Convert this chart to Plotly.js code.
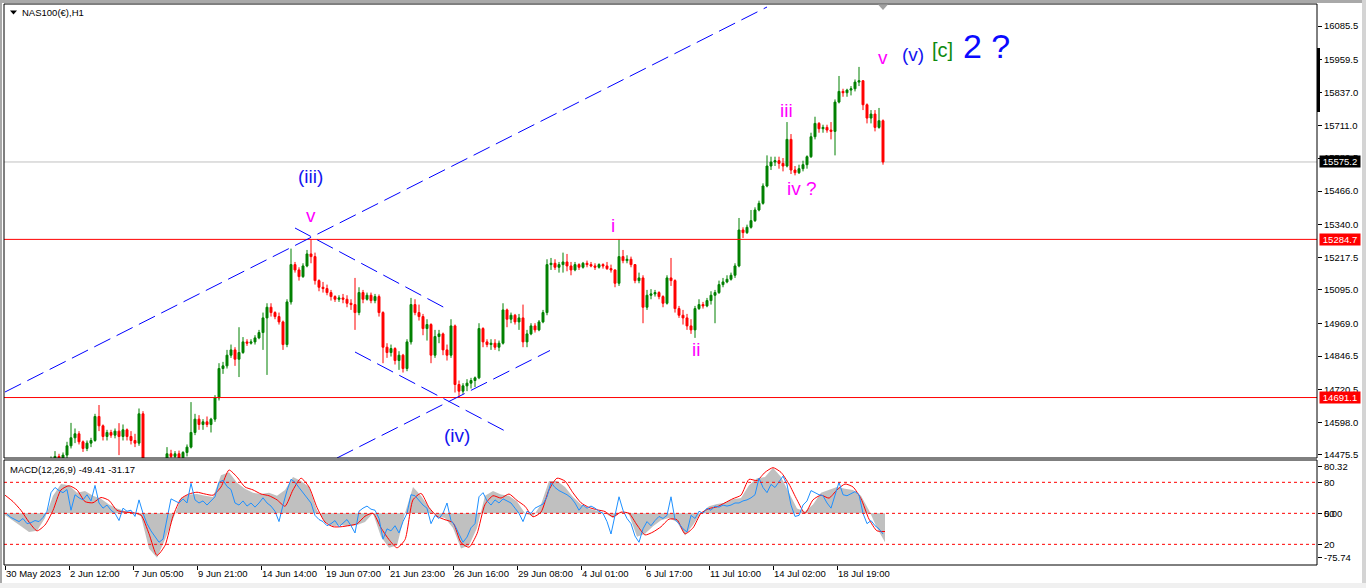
<!DOCTYPE html>
<html><head><meta charset="utf-8">
<script src="https://cdn.plot.ly/plotly-3.0.1.min.js"></script>
<style>html,body{margin:0;padding:0;background:#fff;overflow:hidden}#chart{width:1366px;height:588px}</style>
</head><body><div id="chart"></div><script>
// ---------- DATA ----------
const symbolTitle = "NAS100(€),H1";
const macdTitle = "MACD(12,26,9) -49.41 -31.17";

// 4-hour aggregated candles (each = 4 H1 bars)
const openP = [
14440,14430,14415,14405,14420,14410,14390,14380,14395,14410,
14430,14445,14460,14470,14455,14475,14510,14540,14555,14525,
14500,14520,14530,14620,14585,14545,14560,14550,14565,14545,
14570,14545,14530,14520,14630,14400,14350,14320,14350,14390,
14430,14480,14470,14480,14465,14485,14505,14560,14610,14590,
14600,14590,14610,14690,14800,14810,14850,14870,14835,14860,
14900,14895,14900,14915,14935,14990,15030,15010,14995,14975,
14890,15050,15190,15170,15145,15185,15230,15220,15130,15105,
15100,15085,15070,15060,15065,15060,15045,15040,15010,15085,
15060,15075,15055,15070,15010,14880,14860,14875,14830,14850,
14800,14900,15040,15010,14995,14950,14965,14850,14920,14930,
14870,14850,14960,14740,14715,14735,14745,14755,14765,14950,
14900,14890,14895,14880,14895,15020,14985,15000,14975,14990,
14900,14930,14960,14945,14975,15010,15190,15195,15180,15190,
15200,15185,15170,15190,15180,15195,15190,15185,15180,15190,
15185,15175,15170,15120,15220,15205,15210,15190,15130,15140,
15030,15075,15080,15085,15070,15045,15140,15130,15025,15000,
14990,14960,14945,15025,15040,15035,15055,15075,15085,15115,
15125,15135,15150,15185,15320,15310,15330,15355,15395,15420,
15485,15560,15575,15580,15570,15560,15660,15545,15535,15550,
15565,15595,15670,15720,15700,15705,15695,15690,15800,15840,
15835,15845,15850,15875,15880,15790,15740,15755,15705,15730];
const highP = [
14455,14445,14430,14425,14435,14420,14405,14400,14420,14440,
14455,14470,14490,14480,14485,14525,14596,14575,14565,14530,
14530,14540,14630,14663,14590,14570,14570,14575,14595,14590,
14575,14565,14555,14650,14640,14420,14370,14360,14400,14440,
14505,14495,14490,14492,14490,14515,14674,14630,14625,14610,
14620,14615,14700,14820,14825,14870,14890,14880,14955,14918,
14910,14910,14925,14945,15010,15045,15045,15015,15010,14980,
15060,15250,15200,15180,15195,15245,15285,15235,15135,15125,
15115,15095,15075,15075,15080,15075,15060,15140,15105,15095,
15085,15085,15080,15078,15015,14895,14890,14880,14865,14855,
14910,15065,15060,15040,15005,14985,14970,14945,14945,14935,
14890,14985,14965,14755,14745,14760,14765,14770,14970,14955,
14910,14910,14910,14905,15045,15025,15010,15005,15005,15040,
14945,14970,14970,14982,15020,15210,15215,15210,15200,15235,
15230,15200,15200,15195,15200,15205,15200,15195,15195,15195,
15200,15190,15172,15285,15245,15225,15220,15192,15160,15150,
15095,15098,15095,15090,15075,15150,15215,15135,15035,15020,
15005,14985,15035,15060,15050,15065,15090,15095,15130,15140,
15150,15160,15195,15365,15330,15340,15395,15405,15430,15495,
15600,15595,15595,15595,15590,15725,15680,15560,15565,15580,
15600,15685,15745,15725,15715,15715,15725,15810,15898,15850,
15850,15860,15885,15932,15882,15795,15770,15770,15778,15735];
const lowP = [
14420,14405,14395,14390,14400,14380,14370,14365,14385,14400,
14420,14435,14445,14440,14445,14460,14500,14520,14515,14487,
14490,14505,14525,14565,14530,14530,14540,14538,14475,14530,
14530,14515,14505,14510,14380,14330,14300,14300,14340,14380,
14420,14455,14450,14455,14455,14470,14500,14550,14570,14570,
14580,14560,14600,14680,14780,14800,14840,14810,14768,14855,
14885,14890,14890,14910,14870,14776,14995,14985,14965,14870,
14880,15040,15160,15130,15140,15180,15195,15115,15090,15085,
15075,15055,15050,15050,15045,15030,15020,14945,15000,15045,
15055,15045,15045,14995,14820,14840,14845,14815,14795,14785,
14790,14890,15000,14980,14925,14905,14820,14840,14895,14850,
14830,14840,14710,14692,14705,14715,14725,14730,14760,14880,
14880,14870,14870,14865,14890,14955,14970,14965,14945,14880,
14880,14925,14935,14940,14970,15000,15170,15170,15160,15160,
15165,15150,15165,15170,15175,15180,15180,15170,15175,15175,
15170,15160,15105,15110,15195,15195,15180,15120,15120,14970,
15020,15060,15070,15060,15030,15040,15110,15010,14990,14965,
14945,14930,14915,15020,15025,15030,15040,14970,15080,15105,
15120,15130,15140,15180,15290,15305,15325,15350,15390,15415,
15480,15545,15560,15550,15540,15555,15530,15525,15530,15540,
15550,15590,15660,15685,15685,15685,15660,15600,15795,15820,
15820,15825,15840,15860,15770,15720,15720,15690,15700,15565];
const closeP = [
14430,14415,14405,14420,14410,14390,14380,14395,14410,14430,
14445,14460,14470,14455,14475,14510,14540,14555,14525,14500,
14520,14530,14620,14585,14545,14560,14550,14565,14545,14570,
14545,14530,14520,14630,14400,14350,14320,14350,14390,14430,
14480,14470,14480,14465,14485,14505,14560,14610,14590,14600,
14590,14610,14690,14800,14810,14850,14870,14835,14860,14900,
14895,14900,14915,14935,14990,15030,15010,14995,14975,14890,
15050,15190,15170,15145,15185,15230,15220,15130,15105,15100,
15085,15070,15060,15065,15060,15045,15040,15010,15085,15060,
15075,15055,15070,15010,14880,14860,14875,14830,14850,14800,
14900,15040,15010,14995,14950,14965,14850,14920,14930,14870,
14850,14960,14740,14715,14735,14745,14755,14765,14950,14900,
14890,14895,14880,14895,15020,14985,15000,14975,14990,14900,
14930,14960,14945,14975,15010,15190,15195,15180,15190,15200,
15185,15170,15190,15180,15195,15190,15185,15180,15190,15185,
15175,15170,15120,15220,15205,15210,15190,15130,15140,15030,
15075,15080,15085,15070,15045,15140,15130,15025,15000,14990,
14960,14945,15025,15040,15035,15055,15075,15085,15115,15125,
15135,15150,15185,15320,15310,15330,15355,15395,15420,15485,
15560,15575,15580,15570,15560,15660,15545,15535,15550,15565,
15595,15670,15720,15700,15705,15695,15690,15800,15840,15835,
15845,15850,15875,15880,15790,15740,15755,15705,15730,15575.2];

// MACD main (histogram), sampled every 8 H1 bars
const macdHist = [
-3,-12,-22,-32,-30,-8,30,50,48,35,
38,30,25,15,8,4,2,-5,-60,-76,
-45,-10,26,32,33,30,28,65,70,52,
42,35,33,35,30,40,62,55,45,5,
-15,-22,-20,-22,-20,-15,0,-40,-59,-55,
0,45,30,10,-5,-8,-25,-60,-55,-25,
30,38,32,30,20,0,-5,15,55,55,
45,28,15,8,4,0,-8,2,-2,-40,
-35,-22,-12,-8,-15,-38,-20,0,12,16,
18,24,26,48,60,62,78,62,35,8,
3,15,35,40,45,42,40,30,5,-25,
-49.41];
// MACD signal, same sampling
const macdSignal = [
31,20,5,-15,-30,-20,5,40,47,40,
20,18,27,22,5,2,1,-3,-35,-72,
-55,-5,25,33,36,33,31,45,74,62,
45,40,33,30,23,12,40,60,45,10,
-15,-23,-23,-21,-18,-5,0,-25,-45,-59,
-45,23,34,10,-5,-11,-16,-50,-58,-35,
15,30,26,33,22,12,-6,2,40,60,
55,35,18,10,6,3,-6,2,0,-20,
-37,-32,-23,-10,-11,-35,-25,0,8,11,
18,25,31,58,56,70,78,70,50,23,
0,23,31,26,40,50,45,25,-10,-30,
-31.17];
// blue oscillator (0-100 scale, levels 80/50/20), one value per candle
const oscLine = [
49,46,44,42,45,40,41,43,42,46,
52,70,75,72,70,73,53,68,65,63,
68,62,77,60,55,58,53,50,43,55,
52,53,47,63,50,40,33,27,22,25,
45,64,62,60,64,60,79,63,60,62,
58,62,66,80,82,76,73,60,58,62,
57,60,56,60,65,60,57,52,42,58,
72,83,80,75,70,65,60,48,44,42,
38,40,43,37,41,44,38,31,52,55,
57,54,53,45,25,35,33,38,31,42,
50,68,67,62,58,55,40,48,45,50,
60,43,38,30,22,27,36,40,66,70,
62,58,63,60,64,62,60,55,50,42,
52,50,55,57,59,66,80,75,72,70,
68,65,60,53,58,55,57,55,52,50,
42,30,48,66,53,45,40,28,22,35,
42,38,43,47,45,48,66,44,40,35,
32,48,45,52,50,55,53,57,56,58,
57,58,60,60,62,63,65,68,84,75,
70,78,75,80,86,78,58,47,48,58,
62,72,70,68,67,60,55,68,80,68,
67,69,71,68,50,40,43,38,35,30];

const dateTickLabels = ["30 May 2023","2 Jun 12:00","7 Jun 05:00","9 Jun 21:00","14 Jun 14:00","19 Jun 07:00","21 Jun 23:00","26 Jun 16:00","29 Jun 08:00","4 Jul 01:00","6 Jul 17:00","11 Jul 10:00","14 Jul 02:00","18 Jul 19:00"];
const priceTickValues = [16085.5,15959.5,15837.0,15711.0,15589.5,15466.0,15340.0,15217.5,15095.0,14969.0,14846.5,14720.5,14598.0,14475.5];
const levelPrices = [15284.7, 14691.1];
const lastPrice = 15575.2;
const macdTickValues = [80.32, 0, -75.74];
const oscLevels = [80, 50, 20];

// wave labels anchored at (H1 bar index, price)
const waveLabels = [
  {text:"(iii)", bar:304.5, price:15522, color:"#1414f0", size:19},
  {text:"v", bar:305.5, price:15376, color:"#ff00ff", size:19},
  {text:"(iv)", bar:451.5, price:14547, color:"#1414f0", size:19},
  {text:"i", bar:607.5, price:15335, color:"#ff00ff", size:19},
  {text:"ii", bar:690.5, price:14870, color:"#ff00ff", size:19},
  {text:"iii", bar:780.5, price:15770, color:"#ff00ff", size:19},
  {text:"iv ?", bar:796.5, price:15474, color:"#ff00ff", size:19},
  {text:"v", bar:877.5, price:15969, color:"#ff00ff", size:19},
  {text:"(v)", bar:907.5, price:15980, color:"#1414f0", size:19},
  {text:"[c]", bar:936.5, price:15995, color:"#0d8a0d", size:20},
  {text:"2 ?", bar:980.5, price:16010, color:"#0a0aff", size:34}
];
// dashed trend lines: [bar0, price0, bar1, price1]
const trendLines = [
  [-0.5, 14711.9, 761.5, 16156.8],
  [331.5, 14464.2, 544.5, 14867.7],
  [289.5, 15327.4, 441.5, 15023.4],
  [349.5, 14862.0, 501.5, 14561.8]
];
const shiftMarkerBar = 877.5;

// ---------- BUILD ----------
const FONT = "Liberation Sans, Arial, sans-serif";
const candleX = openP.map((_, k) => 4 * k + 1.5);
const macdX = macdHist.map((_, j) => 8 * j - 0.5);
const oscX = oscLine.map((_, k) => 4 * k + 1.5);
const tickBars = dateTickLabels.map((_, i) => i * 64);

// paper helpers (plot area 4..1317 x, 4..565 y)
const PW = 1313, PH = 561;
const px = p => (p - 4) / PW;
const py = p => (565 - p) / PH;

const traces = [
  {type:'candlestick', x:candleX, open:openP, high:highP, low:lowP, close:closeP,
   xaxis:'x', yaxis:'y', whiskerwidth:0, hoverinfo:'skip',
   increasing:{line:{color:'#008000', width:1}, fillcolor:'#008000'},
   decreasing:{line:{color:'#ff0000', width:1}, fillcolor:'#ff0000'}},
  {type:'scatter', mode:'lines', x:macdX, y:macdHist, xaxis:'x', yaxis:'y2',
   fill:'tozeroy', fillcolor:'#c0c0c0', line:{width:0, color:'#c0c0c0'}, hoverinfo:'skip'},
  {type:'scatter', mode:'lines', x:oscX, y:oscLine, xaxis:'x', yaxis:'y3',
   line:{width:1, color:'#1e90ff'}, hoverinfo:'skip'},
  {type:'scatter', mode:'lines', x:macdX, y:macdSignal, xaxis:'x', yaxis:'y2',
   line:{width:1, color:'#ff0000', shape:'spline', smoothing:0.6}, hoverinfo:'skip'}
];

const shapes = [];
// window chrome
shapes.push({type:'rect', xref:'paper', yref:'paper', x0:px(0), x1:px(1366), y0:py(3), y1:py(0), fillcolor:'#a9a9a9', line:{width:0}, layer:'below'});
shapes.push({type:'rect', xref:'paper', yref:'paper', x0:px(0), x1:px(2), y0:py(588), y1:py(0), fillcolor:'#a9a9a9', line:{width:0}, layer:'below'});
shapes.push({type:'rect', xref:'paper', yref:'paper', x0:px(1362), x1:px(1366), y0:py(588), y1:py(0), fillcolor:'#d4d4d4', line:{width:0}, layer:'below'});
shapes.push({type:'rect', xref:'paper', yref:'paper', x0:px(0), x1:px(1366), y0:py(588), y1:py(583), fillcolor:'#f0f0f0', line:{width:0}, layer:'below'});
// horizontal levels
levelPrices.forEach(v => shapes.push({type:'line', xref:'paper', x0:0, x1:1, yref:'y', y0:v, y1:v, line:{color:'#ff0000', width:1}}));
shapes.push({type:'line', xref:'paper', x0:0, x1:1, yref:'y', y0:lastPrice, y1:lastPrice, line:{color:'#c0c0c0', width:1}, layer:'below'});
// oscillator levels
oscLevels.forEach(v => shapes.push({type:'line', xref:'paper', x0:0, x1:1, yref:'y3', y0:v, y1:v, line:{color:'#ff0000', width:1, dash:'3px,3px'}}));
// trend lines
trendLines.forEach(t => shapes.push({type:'line', xref:'x', yref:'y', x0:t[0], y0:t[1], x1:t[2], y1:t[3], line:{color:'#0000ff', width:1, dash:'18px,7px'}}));
// pane frames
shapes.push({type:'rect', xref:'paper', yref:'paper', x0:0, x1:1, y0:py(458), y1:1, line:{color:'#000', width:1}, fillcolor:'rgba(0,0,0,0)'});
shapes.push({type:'rect', xref:'paper', yref:'paper', x0:0, x1:1, y0:0, y1:py(460), line:{color:'#000', width:1}, fillcolor:'rgba(0,0,0,0)'});
// scroll bar mark on price scale
shapes.push({type:'rect', xref:'paper', yref:'paper', x0:1, x1:1+3/PW, y0:py(112), y1:py(48), fillcolor:'#000', line:{width:0}});
// chart shift marker
shapes.push({type:'path', xref:'x', yref:'paper', path:`M ${shiftMarkerBar-5},${py(4.5)} L ${shiftMarkerBar+5},${py(4.5)} L ${shiftMarkerBar},${py(10)} Z`, fillcolor:'#a0a0a0', line:{width:0}});
// title triangle
shapes.push({type:'path', xref:'paper', yref:'paper', path:`M ${px(10)},${py(10.5)} L ${px(17)},${py(10.5)} L ${px(13.5)},${py(14.5)} Z`, fillcolor:'#000', line:{width:0}});

const annotations = [];
annotations.push({xref:'paper', yref:'paper', x:px(20), y:py(12.5), xanchor:'left', yanchor:'middle', text:symbolTitle, showarrow:false, font:{family:FONT, size:9.5, color:'#000'}});
annotations.push({xref:'paper', yref:'paper', x:px(8), y:py(469), xanchor:'left', yanchor:'middle', text:macdTitle, showarrow:false, font:{family:FONT, size:9.5, color:'#000'}});
waveLabels.forEach(w => annotations.push({xref:'x', yref:'y', x:w.bar, y:w.price, text:w.text, showarrow:false, xanchor:'center', yanchor:'middle', font:{family:FONT, size:w.size, color:w.color}}));
// price boxes on the scale
const box = (v, bg) => ({xref:'paper', yref:'y', x:1, xshift:2, y:v, xanchor:'left', yanchor:'middle', text:v.toFixed(1), showarrow:false, bgcolor:bg, font:{family:FONT, size:9.5, color:'#fff'}, width:40, height:11, borderpad:0, align:'center'});
annotations.push(box(lastPrice, '#000'));
levelPrices.forEach(v => annotations.push(box(v, '#ff0000')));

const tickFont = {family:FONT, size:9.5, color:'#000'};
const layout = {
  width:1366, height:588, margin:{l:4, r:49, t:4, b:23}, paper_bgcolor:'#fff', plot_bgcolor:'#fff',
  showlegend:false, hovermode:false, dragmode:false,
  xaxis:{domain:[0,1], range:[-1.5, 1311.5], anchor:'y2', tickvals:tickBars, ticktext:dateTickLabels,
         ticks:'outside', ticklen:4, tickcolor:'#000', ticklabelposition:'outside right', tickfont:tickFont,
         showgrid:false, zeroline:false, showline:false, rangeslider:{visible:false}, fixedrange:true},
  yaxis:{domain:[py(458),1], range:[14464.2, 16168.1], side:'right', anchor:'x',
         tickvals:priceTickValues, ticktext:priceTickValues.map(v => v.toFixed(1)),
         ticks:'outside', ticklen:4, tickcolor:'#000', tickfont:tickFont, showgrid:false, zeroline:false, showline:false, fixedrange:true},
  yaxis2:{domain:[0, py(460)], range:[-88.4, 91.1], side:'right', anchor:'x',
          tickvals:macdTickValues, ticktext:macdTickValues.map(v => v.toFixed(2)),
          ticks:'outside', ticklen:4, tickcolor:'#000', tickfont:tickFont, showgrid:false, zeroline:false, showline:false, fixedrange:true},
  yaxis3:{overlaying:'y2', range:[0, 101.6], side:'right', anchor:'x',
          tickvals:oscLevels, ticktext:oscLevels.map(String),
          ticks:'outside', ticklen:4, tickcolor:'#000', tickfont:tickFont, showgrid:false, zeroline:false, showline:false, fixedrange:true},
  shapes:shapes, annotations:annotations
};
Plotly.newPlot('chart', traces, layout, {staticPlot:true, displayModeBar:false});
</script></body></html>
